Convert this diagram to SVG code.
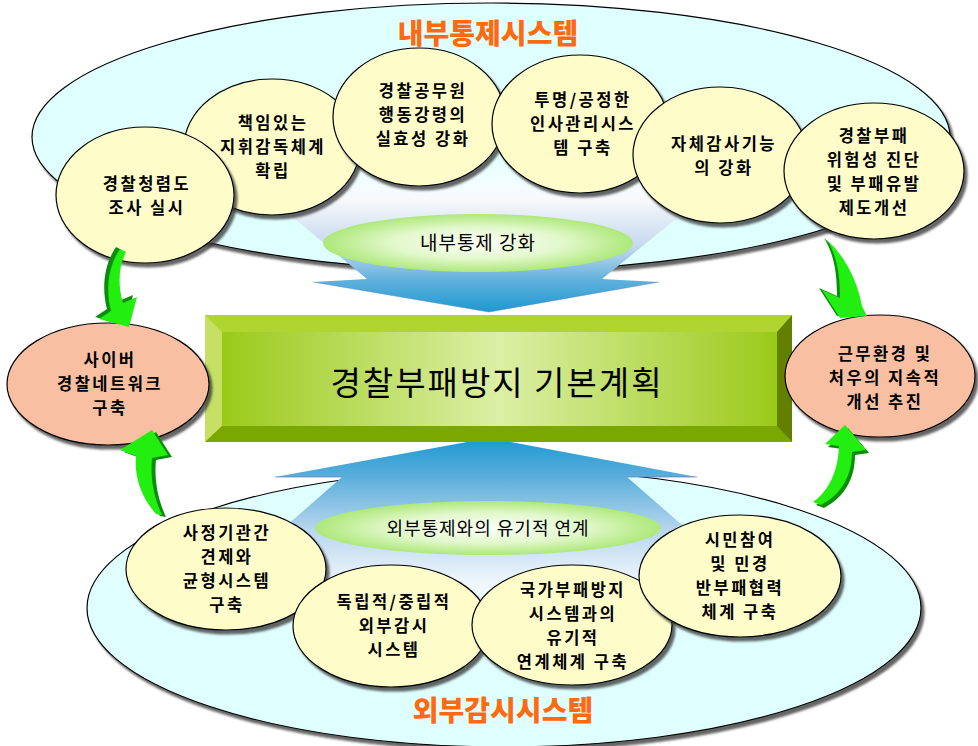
<svg xmlns="http://www.w3.org/2000/svg" width="978" height="746" viewBox="0 0 978 746">
<defs>
<filter id="sh" x="-10%" y="-10%" width="125%" height="125%">
<feGaussianBlur in="SourceAlpha" stdDeviation="1"/>
<feOffset dx="3" dy="4" result="o"/>
<feFlood flood-color="#333" flood-opacity="0.75"/>
<feComposite in2="o" operator="in"/>
<feMerge><feMergeNode/><feMergeNode in="SourceGraphic"/></feMerge>
</filter>
<linearGradient id="gTop" gradientUnits="userSpaceOnUse" x1="0" y1="150" x2="0" y2="312">
<stop offset="0" stop-color="#ffffff" stop-opacity="0"/>
<stop offset="0.3" stop-color="#f8f9fc" stop-opacity="1"/>
<stop offset="0.6" stop-color="#c4d8ee"/>
<stop offset="0.8" stop-color="#62b2dc"/>
<stop offset="1" stop-color="#1c98d2"/>
</linearGradient>
<linearGradient id="gBot" gradientUnits="userSpaceOnUse" x1="0" y1="438" x2="0" y2="630">
<stop offset="0" stop-color="#1c98d2"/>
<stop offset="0.2" stop-color="#5aaedb"/>
<stop offset="0.48" stop-color="#b8d6ee"/>
<stop offset="0.75" stop-color="#eef6fc"/>
<stop offset="1" stop-color="#ffffff" stop-opacity="0"/>
</linearGradient>
<radialGradient id="gLab" cx="0.5" cy="0.5" r="0.5">
<stop offset="0" stop-color="#fbfff6"/>
<stop offset="0.55" stop-color="#e2f8cc"/>
<stop offset="1" stop-color="#aee87a"/>
</radialGradient>
<linearGradient id="gFace" x1="0" y1="0" x2="1" y2="0">
<stop offset="0" stop-color="#9aca1a"/>
<stop offset="0.5" stop-color="#dcefa6"/>
<stop offset="1" stop-color="#9aca1a"/>
</linearGradient>
<style>
.big{fill:#dfffff;stroke:#000;stroke-width:1.2}
.sm{fill:#fefdc9;stroke:#000;stroke-width:1.2}
.side{fill:#f9bfa2;stroke:#000;stroke-width:1.2}
.t{font-family:"Noto Sans CJK KR","Noto Sans",sans-serif;font-size:16.5px;font-weight:bold;fill:#000;text-anchor:middle;letter-spacing:2.5px}
.lab{font-family:"Noto Sans CJK KR","Noto Sans",sans-serif;font-size:19px;fill:#000;text-anchor:middle;letter-spacing:1px}
.ttl{font-family:"Noto Sans CJK KR","Noto Sans",sans-serif;font-size:28px;font-weight:900;fill:#ff6a10;text-anchor:middle}
.box{font-family:"Noto Sans CJK KR","Noto Sans",sans-serif;font-size:33px;fill:#000;text-anchor:middle;letter-spacing:2px}
.ga{fill:#22ee10}
.gd{fill:#0a8e0a}
</style>
</defs>

<g id="internal-system">
<ellipse class="big" cx="491" cy="137" rx="459" ry="134" filter="url(#sh)"/>
<text class="ttl" x="488" y="44">내부통제시스템</text>
</g>
<g id="external-system">
<ellipse class="big" cx="504" cy="608" rx="417" ry="139" filter="url(#sh)"/>
<text class="ttl" x="503" y="721">외부감시시스템</text>
</g>

<g id="connectors">
<polygon id="arrow-down" points="212,150 761,150 602,279 659,282 489,312 313,282 367,279" fill="url(#gTop)"/>
<polyline points="313,282 489,312 659,282" fill="none" stroke="#6a78b8" stroke-width="0.8" stroke-opacity="0.6"/>
<polygon id="arrow-up" points="489,438 697,477 627,477 814,640 156,640 342,477 275,477" fill="url(#gBot)"/>
<polyline points="275,477 342,477" fill="none" stroke="#6a78b8" stroke-width="1" stroke-opacity="0.7"/>
<polyline points="627,477 697,477" fill="none" stroke="#6a78b8" stroke-width="1" stroke-opacity="0.7"/>
</g>

<g id="label-internal">
<ellipse cx="478" cy="243" rx="155" ry="29" fill="url(#gLab)"/>
<text class="lab" x="478" y="250">내부통제 강화</text>
</g>
<g id="label-external">
<ellipse cx="488" cy="528" rx="173" ry="27" fill="url(#gLab)"/>
<text class="lab" x="488" y="535" style="font-size:18px">외부통제와의 유기적 연계</text>
</g>

<g id="main-box">
<rect x="205" y="315" width="587" height="127" fill="#b0d430"/>
<polygon points="205,315 222,332 222,426 205,442" fill="#c6e066"/>
<polygon points="205,442 222,426 777,426 792,442" fill="#7ba800"/>
<polygon points="792,315 777,332 777,426 792,442" fill="#627f00"/>
<rect x="222" y="332" width="555" height="94" fill="url(#gFace)"/>
<text class="box" x="497" y="395">경찰부패방지 기본계획</text>
</g>

<g id="n2"><ellipse class="sm" cx="272" cy="147" rx="88" ry="68" filter="url(#sh)"/>
<text class="t" x="273" y="129">책임있는</text><text class="t" x="273" y="153">지휘감독체계</text><text class="t" x="273" y="177">확립</text></g>
<g id="n1"><ellipse class="sm" cx="145" cy="195" rx="89" ry="68" filter="url(#sh)"/>
<text class="t" x="147" y="190">경찰청렴도</text><text class="t" x="147" y="214">조사 실시</text></g>
<g id="n3"><ellipse class="sm" cx="419" cy="117" rx="86" ry="69" filter="url(#sh)"/>
<text class="t" x="423" y="97">경찰공무원</text><text class="t" x="423" y="121">행동강령의</text><text class="t" x="423" y="145">실효성 강화</text></g>
<g id="n4"><ellipse class="sm" cx="580" cy="124" rx="88" ry="69" filter="url(#sh)"/>
<text class="t" x="583" y="106">투명/공정한</text><text class="t" x="583" y="130">인사관리시스</text><text class="t" x="583" y="154">템 구축</text></g>
<g id="n5"><ellipse class="sm" cx="720" cy="155" rx="87" ry="68" filter="url(#sh)"/>
<text class="t" x="724" y="150">자체감사기능</text><text class="t" x="724" y="174">의 강화</text></g>
<g id="n6"><ellipse class="sm" cx="874" cy="171" rx="90" ry="68" filter="url(#sh)"/>
<text class="t" x="874" y="142">경찰부패</text><text class="t" x="874" y="166">위험성 진단</text><text class="t" x="874" y="190">및 부패유발</text><text class="t" x="874" y="214">제도개선</text></g>

<g id="b1"><ellipse class="sm" cx="226" cy="569" rx="100" ry="61" filter="url(#sh)"/>
<text class="t" x="227" y="539">사정기관간</text><text class="t" x="227" y="563">견제와</text><text class="t" x="227" y="587">균형시스템</text><text class="t" x="227" y="611">구축</text></g>
<g id="b2"><ellipse class="sm" cx="391" cy="626" rx="98" ry="61" filter="url(#sh)"/>
<text class="t" x="394" y="608">독립적/중립적</text><text class="t" x="394" y="632">외부감시</text><text class="t" x="394" y="656">시스템</text></g>
<g id="b3"><ellipse class="sm" cx="572" cy="625" rx="100" ry="60" filter="url(#sh)"/>
<text class="t" x="573" y="596">국가부패방지</text><text class="t" x="573" y="620">시스템과의</text><text class="t" x="573" y="644">유기적</text><text class="t" x="573" y="668">연계체계 구축</text></g>
<g id="b4"><ellipse class="sm" cx="740" cy="576" rx="101" ry="61" filter="url(#sh)"/>
<text class="t" x="740" y="546">시민참여</text><text class="t" x="740" y="570">및 민경</text><text class="t" x="740" y="594">반부패협력</text><text class="t" x="740" y="618">체계 구축</text></g>

<g id="s-left"><ellipse class="side" cx="108" cy="384" rx="101" ry="61" filter="url(#sh)"/>
<text class="t" x="110" y="366">사이버</text><text class="t" x="110" y="390">경찰네트워크</text><text class="t" x="110" y="414">구축</text></g>
<g id="s-right"><ellipse class="side" cx="880" cy="376" rx="95" ry="61" filter="url(#sh)"/>
<text class="t" x="885" y="360">근무환경 및</text><text class="t" x="885" y="384">처우의 지속적</text><text class="t" x="885" y="408">개선 추진</text></g>

<g id="green-arrows">
<g transform="translate(-4,-2)"><path class="gd" d="M 120,249 L 126,252 C 118,268 118,286 123,303 L 137,297 L 129,327 L 99,319 L 111,311 C 106,292 107,268 120,249 Z"/></g>
<path class="ga" d="M 120,249 L 126,252 C 118,268 118,286 123,303 L 137,297 L 129,327 L 99,319 L 111,311 C 106,292 107,268 120,249 Z"/>
<g transform="translate(-3,-2)"><path class="gd" d="M 827,240 C 846,257 858,283 862,306 L 867,316 L 840,318 L 822,290 L 840,298 C 840,275 837,256 827,240 Z"/></g>
<path class="ga" d="M 827,240 C 846,257 858,283 862,306 L 867,316 L 840,318 L 822,290 L 840,298 C 840,275 837,256 827,240 Z"/>
<g transform="translate(4,2)"><path class="gd" d="M 156,514 C 142,498 134,478 136,456 L 120,450 L 152,430 L 168,455 L 152,458 C 150,478 154,498 162,515 Z"/></g>
<path class="ga" d="M 156,514 C 142,498 134,478 136,456 L 120,450 L 152,430 L 168,455 L 152,458 C 150,478 154,498 162,515 Z"/>
<g transform="translate(3,3)"><path class="gd" d="M 813,502 C 830,490 838,470 839,446 L 825,444 L 845,425 L 866,450 L 852,452 C 852,475 842,494 821,505 Z"/></g>
<path class="ga" d="M 813,502 C 830,490 838,470 839,446 L 825,444 L 845,425 L 866,450 L 852,452 C 852,475 842,494 821,505 Z"/>
</g>
</svg>
